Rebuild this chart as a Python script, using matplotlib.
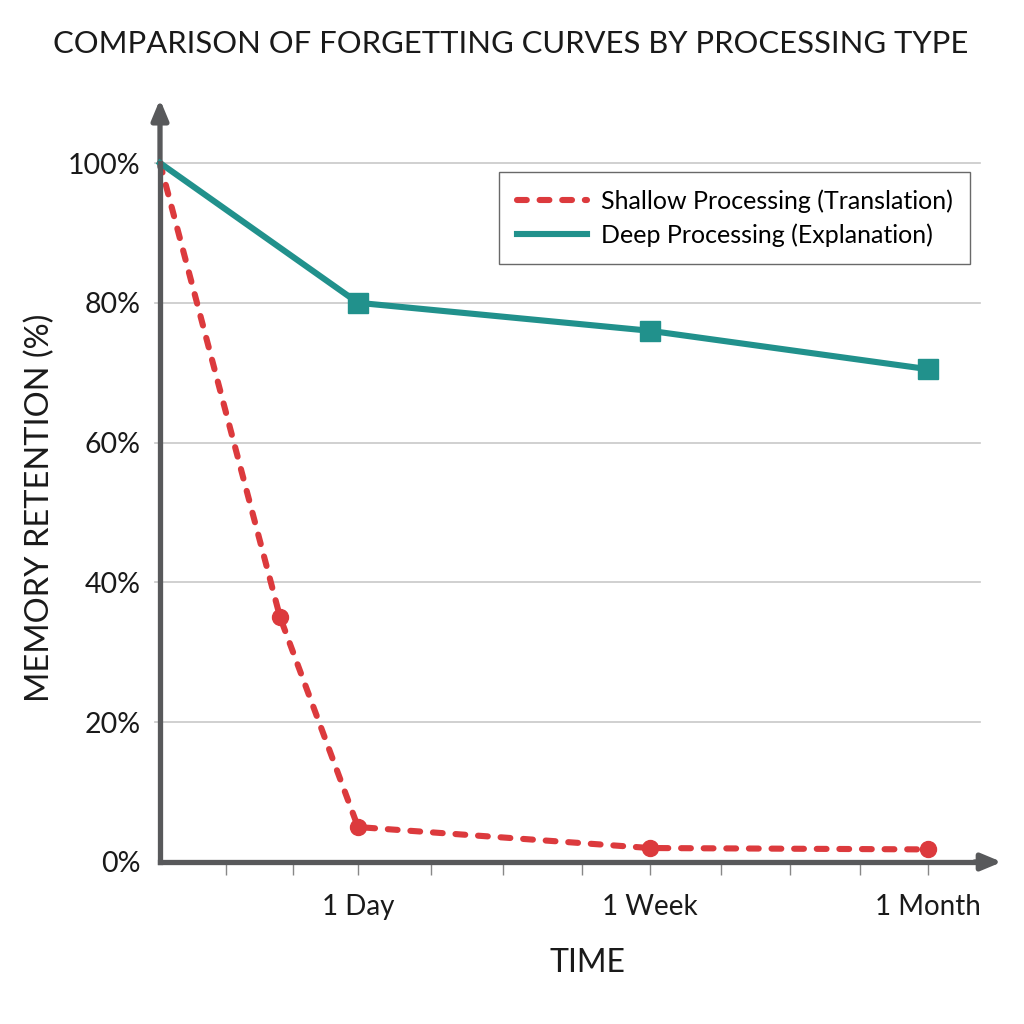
import matplotlib.pyplot as plt
import numpy as np

plt.rcParams['font.family'] = ['Lato', 'DejaVu Sans']

# x positions in axis units (origin = learning moment)
shallow_x = [0, 1.82, 3.0, 7.42, 11.64]
shallow_y = [100, 35, 5, 2, 1.8]
deep_x = [0, 3.0, 7.42, 11.64]
deep_y = [100, 80, 76, 70.5]

label_ticks = [3.0, 7.42, 11.64]
label_names = ['1 Day', '1 Week', '1 Month']
minor_ticks = [1.0, 2.02, 4.1, 5.2, 6.4, 8.5, 9.55, 10.6]
y_ticks = [0, 20, 40, 60, 80, 100]

RED = '#dc3a3d'
TEAL = '#21918c'
AXIS = '#58595b'
TXT = '#1a1a1a'

fig = plt.figure(figsize=(10.24, 10.24), dpi=100)
ax = fig.add_axes([160/1024, 162/1024, 820/1024, 699/1024])

ax.set_xlim(0, 820/66)
ax.set_ylim(0, 100)

for y in y_ticks[1:]:
    ax.plot([-5/66, 820/66], [y, y], color='#c8c8c8', lw=1.2, zorder=1, clip_on=False)

# no marker at the starting point
ax.plot(shallow_x, shallow_y, color=RED, lw=4.4, ls=(0, (1.6, 2.1)), marker='o',
        markersize=11.5, markevery=slice(1, None), label='Shallow Processing (Translation)',
        zorder=3, clip_on=False, dash_capstyle='round')
ax.plot(deep_x, deep_y, color=TEAL, lw=4.4, marker='s', markersize=14.5,
        markevery=slice(1, None), label='Deep Processing (Explanation)', zorder=4, clip_on=False)

for s in ['top', 'right']:
    ax.spines[s].set_visible(False)
for s in ['left', 'bottom']:
    ax.spines[s].set_color(AXIS)
    ax.spines[s].set_linewidth(3.8)
    ax.spines[s].set_zorder(5)

# arrows on axes
ax.annotate('', xy=(0, 1.095), xytext=(0, 0.99), xycoords='axes fraction',
            arrowprops=dict(arrowstyle='-|>,head_width=0.5,head_length=1.2', color=AXIS, lw=3.8),
            annotation_clip=False)
ax.annotate('', xy=(1.03, 0), xytext=(0.99, 0), xycoords='axes fraction',
            arrowprops=dict(arrowstyle='-|>,head_width=0.5,head_length=1.2', color=AXIS, lw=3.8),
            annotation_clip=False)

ax.set_xticks(label_ticks)
ax.set_xticklabels(label_names, fontsize=20, color=TXT)
ax.set_xticks(minor_ticks, minor=True)
ax.tick_params(axis='x', which='both', direction='out', length=9, width=1, color='#888888', pad=14)

ax.set_yticks(y_ticks)
ax.set_yticklabels([f'{v}%' for v in y_ticks], fontsize=20.5, color=TXT)
ax.tick_params(axis='y', length=0, pad=14)

ax.set_xlabel('TIME', fontsize=23, color=TXT)
ax.xaxis.set_label_coords((587-160)/820, -(963-862)/699, transform=ax.transAxes)
ax.xaxis.label.set_va('center')
ax.set_ylabel('MEMORY RETENTION (%)', fontsize=23.5, color=TXT)
ax.yaxis.set_label_coords(-(160-40)/820, (862-508)/699, transform=ax.transAxes)
ax.yaxis.label.set_va('center')

fig.text(511/1024, 1 - 44/1024, 'COMPARISON OF FORGETTING CURVES BY PROCESSING TYPE',
         ha='center', va='center', fontsize=22.3, color=TXT)

leg = ax.legend(loc='upper right', bbox_to_anchor=((970-160)/820, (862-172)/699), fontsize=18,
                frameon=True, fancybox=False, edgecolor='#444444', borderpad=0.7,
                handlelength=2.8, handletextpad=0.55, labelspacing=0.4, borderaxespad=0)
leg.get_frame().set_linewidth(1)
for line in leg.get_lines():
    line.set_marker('')

fig.savefig('out.png', dpi=100, facecolor='white')
